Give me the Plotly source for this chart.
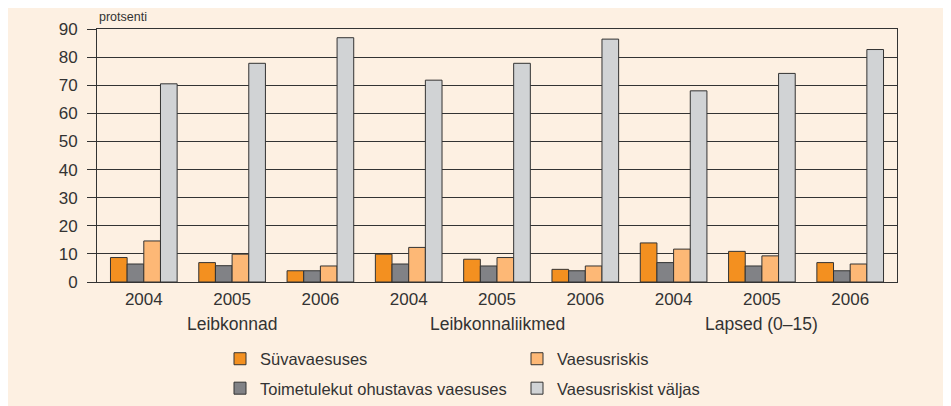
import plotly.graph_objects as go

groups = ["Leibkonnad", "Leibkonnaliikmed", "Lapsed (0–15)"]
years = ["2004", "2005", "2006"]

suvavaesuses = [8.7, 6.9, 4.0, 9.9, 8.1, 4.5, 13.9, 10.9, 6.9]
toimetulekut = [6.4, 5.8, 4.0, 6.4, 5.7, 4.0, 6.9, 5.7, 4.0]
vaesusriskis = [14.6, 9.9, 5.7, 12.3, 8.7, 5.7, 11.7, 9.3, 6.4]
valjas = [70.5, 77.8, 86.9, 71.8, 77.8, 86.4, 68.0, 74.2, 82.7]

series_names = ["Süvavaesuses", "Toimetulekut ohustavas vaesuses", "Vaesusriskis", "Vaesusriskist väljas"]
series_values = [suvavaesuses, toimetulekut, vaesusriskis, valjas]
colors = ["#F39020", "#818286", "#FDB876", "#D1D3D5"]
legend_ids = ["legend", "legend", "legend2", "legend2"]

cats = [f"{g}|{y}" for g in groups for y in years]
tick_text = [y for g in groups for y in years]

BG = "#FDF0E2"
INK = "#333333"
FONT = "Liberation Sans, Arial, sans-serif"

fig = go.Figure()
for i, (name, vals) in enumerate(zip(series_names, series_values)):
    fig.add_trace(go.Bar(
        x=cats, y=vals, name=name,
        marker=dict(color=colors[i], line=dict(color=INK, width=1)),
        legend=legend_ids[i], legendgroup=name,
    ))

# group labels under the year ticks
for g in groups:
    fig.add_annotation(x=f"{g}|2005", y=0, xref="x", yref="paper", yshift=-42,
                       text=g, showarrow=False, yanchor="middle",
                       font=dict(size=17.5, color=INK, family=FONT))

fig.add_annotation(x=0, y=1, xref="paper", yref="paper", xanchor="left", yanchor="bottom",
                   yshift=3, text="protsenti", showarrow=False,
                   font=dict(size=12.5, color=INK, family=FONT))

LEG_Y = -(341.5 - 282) / 253

fig.update_layout(
    width=943, height=398,
    margin=dict(l=89, r=54, t=21, b=124, autoexpand=False),
    paper_bgcolor=BG, plot_bgcolor=BG,
    barmode="group", bargap=0.245, bargroupgap=0,
    font=dict(family=FONT, color=INK, size=16),
    legend=dict(x=(220 - 97) / 800, y=LEG_Y, xanchor="left", yanchor="top",
                bgcolor="rgba(0,0,0,0)", font=dict(size=16.5, color=INK, family=FONT),
                tracegroupgap=5, itemclick=False),
    legend2=dict(x=(517 - 97) / 800, y=LEG_Y, xanchor="left", yanchor="top",
                 bgcolor="rgba(0,0,0,0)", font=dict(size=16.5, color=INK, family=FONT),
                 tracegroupgap=5, itemclick=False),
    xaxis=dict(type="category", tickvals=cats, ticktext=tick_text,
               range=[-0.53, 8.53], showline=True, mirror=True, linecolor=INK, linewidth=1,
               ticks="", tickfont=dict(size=17, color=INK, family=FONT),
               showgrid=False, zeroline=False, ticklabelstandoff=2),
    yaxis=dict(range=[0, 90], dtick=10, showline=True, mirror=True, linecolor=INK, linewidth=1,
               ticks="outside", ticklen=9, tickcolor=INK, tickwidth=1,
               tickfont=dict(size=17, color=INK, family=FONT),
               showgrid=True, gridcolor=INK, gridwidth=1, zeroline=False,
               ticklabelstandoff=6),
)

fig.write_html("out.html")
